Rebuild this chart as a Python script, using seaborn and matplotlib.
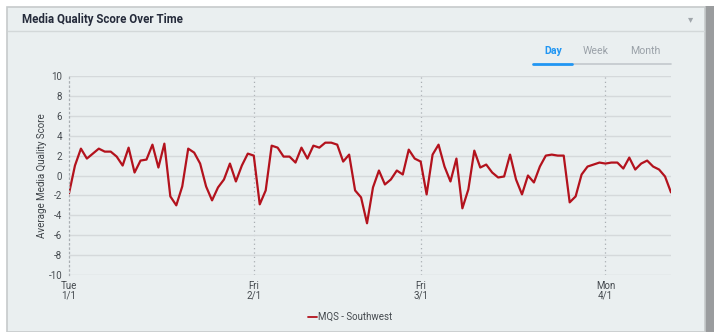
import numpy as np
import pandas as pd
import matplotlib
matplotlib.use("Agg")
import matplotlib.pyplot as plt
from matplotlib.patches import Rectangle
from matplotlib.lines import Line2D
import seaborn as sns

# data (daily, 2019-01-01 .. 2019-04-12)
start_date = "2019-01-01"
mqs_southwest = [
    -1.8, 1.0, 2.7, 1.7, 2.2, 2.7, 2.4, 2.4, 1.9, 1.0,
    2.8, 0.3, 1.5, 1.6, 3.1, 0.8, 3.2, -2.1, -3.0, -1.1,
    2.7, 2.3, 1.2, -1.1, -2.5, -1.2, -0.4, 1.2, -0.6, 1.0,
    2.2, 2.0, -2.9, -1.5, 3.0, 2.8, 1.9, 1.9, 1.3, 2.8,
    1.7, 3.0, 2.8, 3.3, 3.3, 3.1, 1.4, 2.1, -1.5, -2.2,
    -4.8, -1.2, 0.5, -0.9, -0.4, 0.5, 0.1, 2.6, 1.7, 1.4,
    -1.9, 2.1, 3.1, 0.9, -0.6, 1.7, -3.3, -1.4, 2.5, 0.8,
    1.1, 0.3, -0.2, -0.1, 2.1, -0.4, -1.9, 0.0, -0.7, 0.9,
    2.0, 2.1, 2.0, 2.0, -2.7, -2.1, 0.1, 0.9, 1.1, 1.3,
    1.2, 1.3, 1.3, 0.7, 1.8, 0.6, 1.2, 1.5, 0.9, 0.6,
    -0.1, -1.7,
]
tick_dates = ["2019-01-01", "2019-02-01", "2019-03-01", "2019-04-01"]
tick_labels = ["Tue\n1/1", "Fri\n2/1", "Fri\n3/1", "Mon\n4/1"]
y_ticks = list(range(-10, 11, 2))
series_name = "MQS - Southwest"
tabs = ["Day", "Week", "Month"]

df = pd.DataFrame({
    "date": pd.date_range(start_date, periods=len(mqs_southwest), freq="D"),
    "score": mqs_southwest,
    "series": series_name,
})

sns.set_style("white")
plt.rcParams["font.family"] = ["Roboto", "DejaVu Sans"]

W, H = 714, 332
bg = "#eaeff0"
fig = plt.figure(figsize=(W / 100, H / 100), dpi=100)
fig.patch.set_facecolor("white")

def px(x, y):
    return x / W, 1 - y / H

# card + shadow
fig.patches.append(Rectangle((705 / W, 0), 9 / W, 1 - 6 / H, transform=fig.transFigure,
                             facecolor="#9a9c9e", edgecolor="none", zorder=-3))
fig.patches.append(Rectangle(px(7, 332), 698 / W, (332 - 7) / H, transform=fig.transFigure,
                             facecolor=bg, edgecolor="#c6cacb", lw=1.2, zorder=-2))
fig.lines.append(Line2D([8 / W, 704 / W], [1 - 31 / H] * 2, transform=fig.transFigure,
                        color="#d3d8d9", lw=1, zorder=-1))
fig.text(*px(22, 19), "Media Quality Score Over Time", fontsize=8.3, fontweight="bold",
         color="#252b3b", va="center", ha="left")
fig.text(*px(691, 19), "\u25be", fontsize=7.5, color="#a0a6ab", va="center", ha="center",
         family=["DejaVu Sans"])

# range tabs
tab_x = [553, 596, 645]
for i, (t, x) in enumerate(zip(tabs, tab_x)):
    fig.text(*px(x, 51), t, fontsize=7.6, ha="center", va="center",
             color="#2196f3" if i == 0 else "#9aa1a8",
             fontweight="bold" if i == 0 else "normal")
fig.lines.append(Line2D([572 / W, 671 / W], [1 - 64 / H] * 2, transform=fig.transFigure,
                        color="#c3c8cc", lw=1.2))
fig.lines.append(Line2D([533 / W, 572 / W], [1 - 64 / H] * 2, transform=fig.transFigure,
                        color="#2196f3", lw=2))

ax = fig.add_axes([69 / W, 1 - 275 / H, (671 - 69) / W, (275 - 76) / H])
ax.set_zorder(2)
ax.set_facecolor(bg)
sns.lineplot(data=df, x="date", y="score", hue="series", palette=["#b3121d"],
             linewidth=1.6, ax=ax, legend=True)

ax.set_xlim(df["date"].iloc[0], df["date"].iloc[-1])
ax.set_ylim(-10, 10)
ax.set_yticks(y_ticks)
ax.set_yticklabels([str(v) for v in y_ticks], fontsize=7, color="#454a4f")
ax.yaxis.grid(True, color="#d5d9db", lw=1)
ticks = pd.to_datetime(tick_dates)
ax.set_xticks(ticks)
ax.set_xticklabels(tick_labels, fontsize=7, color="#454a4f", linespacing=0.95)
for t in ticks[1:]:
    ax.axvline(t, color="#a9aeb2", lw=0.9, ls=(0, (1, 2.5)), zorder=0)
ax.tick_params(axis="both", length=2, color="#c9cdd0", pad=3)
ax.tick_params(axis="x", length=0, pad=4)
for s in ["top", "right", "bottom"]:
    ax.spines[s].set_visible(False)
ax.spines["left"].set_color("#a9aeb2")
ax.spines["left"].set_linestyle((0, (1, 2.5)))
ax.spines["left"].set_linewidth(0.9)
ax.set_xlabel("")
ax.set_ylabel("Average Media Quality Score", fontsize=7, color="#3d4247", labelpad=1)

leg = ax.legend(loc="center", bbox_to_anchor=px(350, 317), bbox_transform=fig.transFigure,
                frameon=False, fontsize=7, handlelength=0.9, handletextpad=0.1,
                labelcolor="#454a4f")
for h in leg.get_lines():
    h.set_linewidth(1.3)

fig.savefig("out.png", dpi=100, facecolor=fig.get_facecolor())
